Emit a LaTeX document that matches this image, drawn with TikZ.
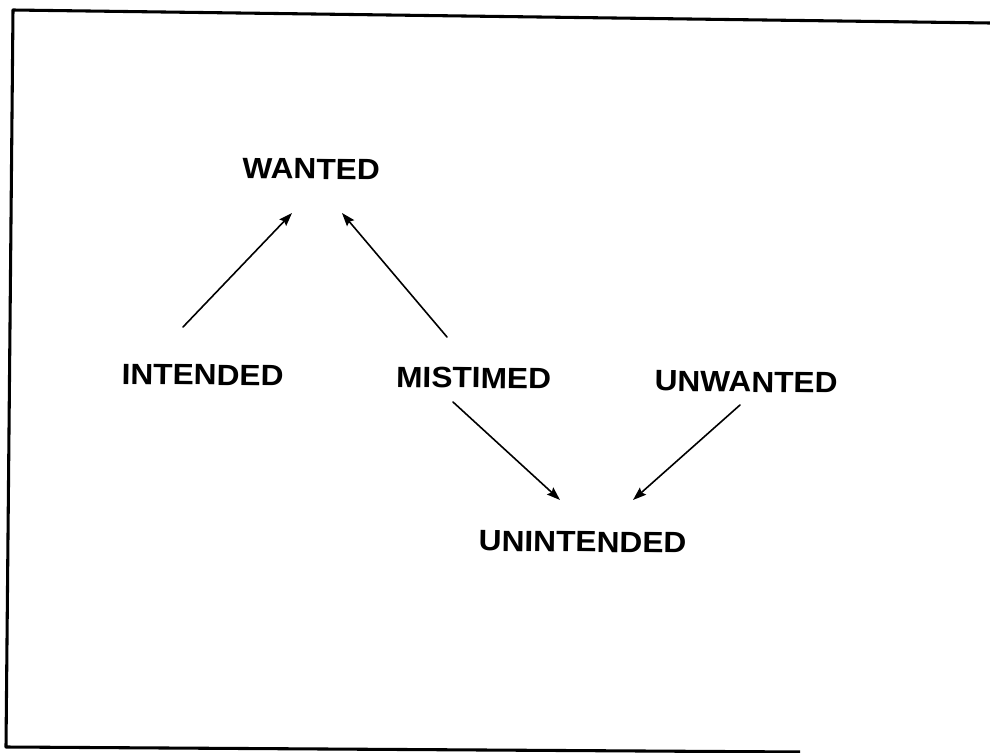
\documentclass[tikz,border=0pt]{standalone}
\usepackage{fontspec}
\setmainfont{Liberation Sans}
\usetikzlibrary{arrows.meta}

\tikzset{
  label text/.style={font=\bfseries\fontsize{22pt}{24pt}\selectfont,
    inner sep=0pt, anchor=base, xscale=1.08, rotate=-0.7},
  link/.style={line width=1.2pt, line cap=round,
    -{Stealth[length=10pt,width=7pt,inset=1.5pt]}},
  frame/.style={line width=2.3pt, line join=round}
}

\begin{document}
\begin{tikzpicture}[x=0.75pt, y=-0.75pt]
  \useasboundingbox (0,0) rectangle (990,753);

  % open frame
  \draw[frame] (990,23) -- (13,10) -- (6,747) -- (800,752);

  % terms
  \node[label text] (wanted)     at (311,179)   {WANTED};
  \node[label text] (intended)   at (202.5,385) {INTENDED};
  \node[label text] (mistimed)   at (473.5,388) {MISTIMED};
  \node[label text] (unwanted)   at (746,392)   {UNWANTED};
  \node[label text] (unintended) at (582.5,552) {UNINTENDED};

  % relations
  \draw[link] ([shift={(-19.5,-58)}]intended.base) -- ([shift={(-19,34)}]wanted.base);
  \draw[link] ([shift={(-26.5,-51)}]mistimed.base) -- ([shift={(31,34)}]wanted.base);
  \draw[link] ([shift={(-20.5,14)}]mistimed.base)  -- ([shift={(-22.5,-52)}]unintended.base);
  \draw[link] ([shift={(-6,13)}]unwanted.base)     -- ([shift={(50.5,-52)}]unintended.base);
\end{tikzpicture}
\end{document}
